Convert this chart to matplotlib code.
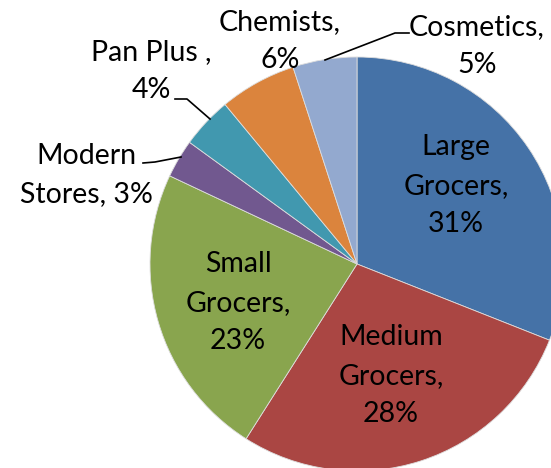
import matplotlib.pyplot as plt

# shares of outlets, clockwise from 12 o'clock
labels = ["Large\nGrocers,\n31%", "Medium\nGrocers,\n28%", "Small\nGrocers,\n23%",
          "Modern\nStores, 3%", "Pan Plus ,\n4%", "Chemists,\n6%", "Cosmetics,\n5%"]
shares = [31, 28, 23, 3, 4, 6, 5]
colors = ["#4572A7", "#AA4643", "#89A54E", "#71588F", "#4198AF", "#DB843D", "#93A9CF"]

W, H = 551, 468
fig = plt.figure(figsize=(W / 100, H / 100), dpi=100)
ax = fig.add_axes([0, 0, 1, 1])

cx, cy, r = 357, H - 264, 207
ax.pie(shares, colors=colors, startangle=90, counterclock=False,
       center=(cx, cy), radius=r,
       wedgeprops=dict(edgecolor="#dddddd", linewidth=0.6))
ax.set_xlim(0, W)
ax.set_ylim(0, H)
ax.set_aspect("equal")
ax.axis("off")

size = 20.5
font = dict(family="Lato", fontsize=size, ha="center", va="baseline",
            linespacing=38.5 / (0.85 * size * 100 / 72))

# label centre x and baseline of the last line, in pixels from top
pos = [(456, 232), (391, 422), (238, 349), (86, 202), (151, 98), (280, 68), (477, 73)]
for lab, (x, y) in zip(labels, pos):
    ax.text(x, H - y, lab, **font)

# leader lines
leaders = [
    [(143, 163), (155, 162), (181, 157)],
    [(175, 99), (187, 99), (210, 119)],
    [(409, 33), (395, 33), (325, 60)],
]
for pts in leaders:
    xs = [p[0] for p in pts]
    ys = [H - p[1] for p in pts]
    ax.plot(xs, ys, color="black", lw=1.2)

plt.savefig("out.png", dpi=100)
